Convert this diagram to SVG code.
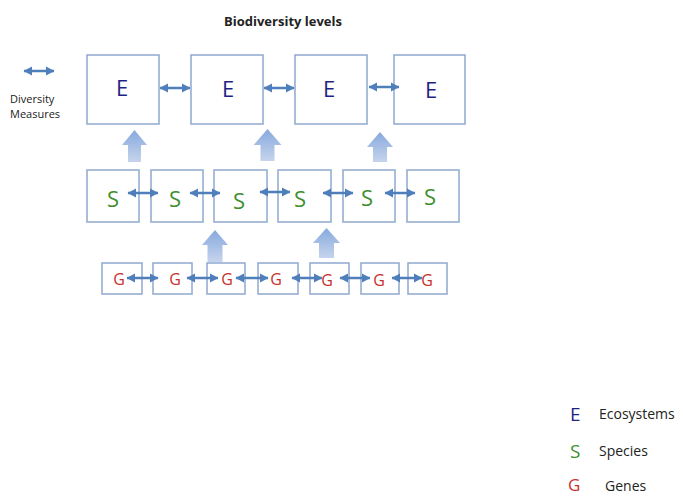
<svg xmlns="http://www.w3.org/2000/svg" width="683" height="497" viewBox="0 0 683 497">
<style>
.box{fill:#ffffff;stroke:#8fa8cf;stroke-width:1.5}
.t{font-family:"Open Sans","Liberation Sans",sans-serif;text-anchor:middle}
.e{fill:#1f1f86;font-size:22px}
.s{fill:#3f8f2f;font-size:22px}
.g{fill:#c8302c;font-size:16px}
.da{stroke:#4f7fba;stroke-width:2.5;fill:none;marker-start:url(#ah);marker-end:url(#ah)}
.up{fill:url(#upg)}
.lbl{font-family:"Open Sans","Liberation Sans",sans-serif;fill:#222222}
</style>
<defs>
<marker id="ah" markerUnits="userSpaceOnUse" markerWidth="10" markerHeight="10" refX="8" refY="5" orient="auto-start-reverse">
<path d="M0,0.5 L8.5,5 L0,9.5 Z" fill="#4f7fba"/>
</marker>
<linearGradient id="upg" x1="0" y1="0" x2="0" y2="1">
<stop offset="0" stop-color="#87a9de"/>
<stop offset="1" stop-color="#c6d4ec"/>
</linearGradient>
</defs>
<rect width="683" height="497" fill="#ffffff"/>
<text id="title" class="lbl" x="283" y="26" font-size="13" font-weight="bold" text-anchor="middle">Biodiversity levels</text>

<g id="legend-measures">
<line class="da" x1="24" y1="71" x2="54" y2="71"/>
<text class="lbl" x="10" y="103" font-size="11">Diversity</text>
<text class="lbl" x="10" y="118" font-size="11">Measures</text>
</g>

<g id="E1"><rect class="box" x="87" y="55" width="72" height="69"/><text class="t e" x="122" y="96">E</text></g>
<g id="E2"><rect class="box" x="191" y="55" width="72" height="69"/><text class="t e" x="228" y="97">E</text></g>
<g id="E3"><rect class="box" x="295" y="55" width="72" height="69"/><text class="t e" x="329" y="97">E</text></g>
<g id="E4"><rect class="box" x="394" y="55" width="71" height="69"/><text class="t e" x="431" y="98">E</text></g>

<g id="S1"><rect class="box" x="87" y="170" width="52" height="52"/><text class="t s" x="113" y="207">S</text></g>
<g id="S2"><rect class="box" x="151" y="170" width="52" height="52"/><text class="t s" x="175" y="207">S</text></g>
<g id="S3"><rect class="box" x="214" y="170" width="53" height="52"/><text class="t s" x="239" y="209">S</text></g>
<g id="S4"><rect class="box" x="278" y="170" width="53" height="52"/><text class="t s" x="300" y="207">S</text></g>
<g id="S5"><rect class="box" x="343" y="170" width="52" height="52"/><text class="t s" x="367" y="206">S</text></g>
<g id="S6"><rect class="box" x="407" y="170" width="52" height="52"/><text class="t s" x="430" y="205">S</text></g>

<g id="G1"><rect class="box" x="102" y="263" width="40" height="31"/><text class="t g" x="119" y="285">G</text></g>
<g id="G2"><rect class="box" x="153" y="263" width="39" height="31"/><text class="t g" x="175" y="285">G</text></g>
<g id="G3"><rect class="box" x="207" y="263" width="38" height="31"/><text class="t g" x="227" y="285">G</text></g>
<g id="G4"><rect class="box" x="258" y="263" width="40" height="31"/><text class="t g" x="276" y="285">G</text></g>
<g id="G5"><rect class="box" x="310" y="263" width="39" height="31"/><text class="t g" x="327" y="286">G</text></g>
<g id="G6"><rect class="box" x="361" y="263" width="38" height="31"/><text class="t g" x="379" y="286">G</text></g>
<g id="G7"><rect class="box" x="408" y="263" width="39" height="31"/><text class="t g" x="427" y="286">G</text></g>

<g id="connectors">
<line class="da" x1="160" y1="88" x2="190" y2="88"/>
<line class="da" x1="264" y1="88" x2="294" y2="88"/>
<line class="da" x1="369" y1="87" x2="399" y2="87"/>

<line class="da" x1="128" y1="193" x2="158" y2="193"/>
<line class="da" x1="190" y1="193" x2="220" y2="193"/>
<line class="da" x1="260" y1="192" x2="290" y2="192"/>
<line class="da" x1="323" y1="193" x2="353" y2="193"/>
<line class="da" x1="385" y1="193" x2="415" y2="193"/>

<line class="da" x1="127" y1="278" x2="158" y2="278"/>
<line class="da" x1="187" y1="278" x2="218" y2="278"/>
<line class="da" x1="236" y1="278" x2="268" y2="278"/>
<line class="da" x1="292" y1="278" x2="322" y2="278"/>
<line class="da" x1="340" y1="278" x2="370" y2="278"/>
<line class="da" x1="392" y1="278" x2="422" y2="278"/>

<path class="up" d="M134.5,130 L147,145 L141,145 L141,162 L128,162 L128,145 L122,145 Z"/>
<path class="up" d="M267.5,129 L281.5,145 L274.5,145 L274.5,161 L260.5,161 L260.5,145 L253.5,145 Z"/>
<path class="up" d="M380,132 L393,147 L387,147 L387,162 L373,162 L373,147 L367,147 Z"/>
<path class="up" d="M215,230 L228,245 L222.5,245 L222.5,262 L207.5,262 L207.5,245 L202,245 Z"/>
<path class="up" d="M326.5,228 L340,243 L334,243 L334,258 L319,258 L319,243 L313,243 Z"/>
</g>

<g id="legend">
<text class="lbl" x="570" y="421" font-size="19" style="fill:#1f1f86">E</text>
<text class="lbl" x="599" y="419" font-size="14">Ecosystems</text>
<text class="lbl" x="570" y="458" font-size="19" style="fill:#3f8f2f">S</text>
<text class="lbl" x="599" y="456" font-size="14">Species</text>
<text class="lbl" x="568" y="491" font-size="17" style="fill:#c8302c">G</text>
<text class="lbl" x="605" y="491" font-size="14">Genes</text>
</g>
</svg>
